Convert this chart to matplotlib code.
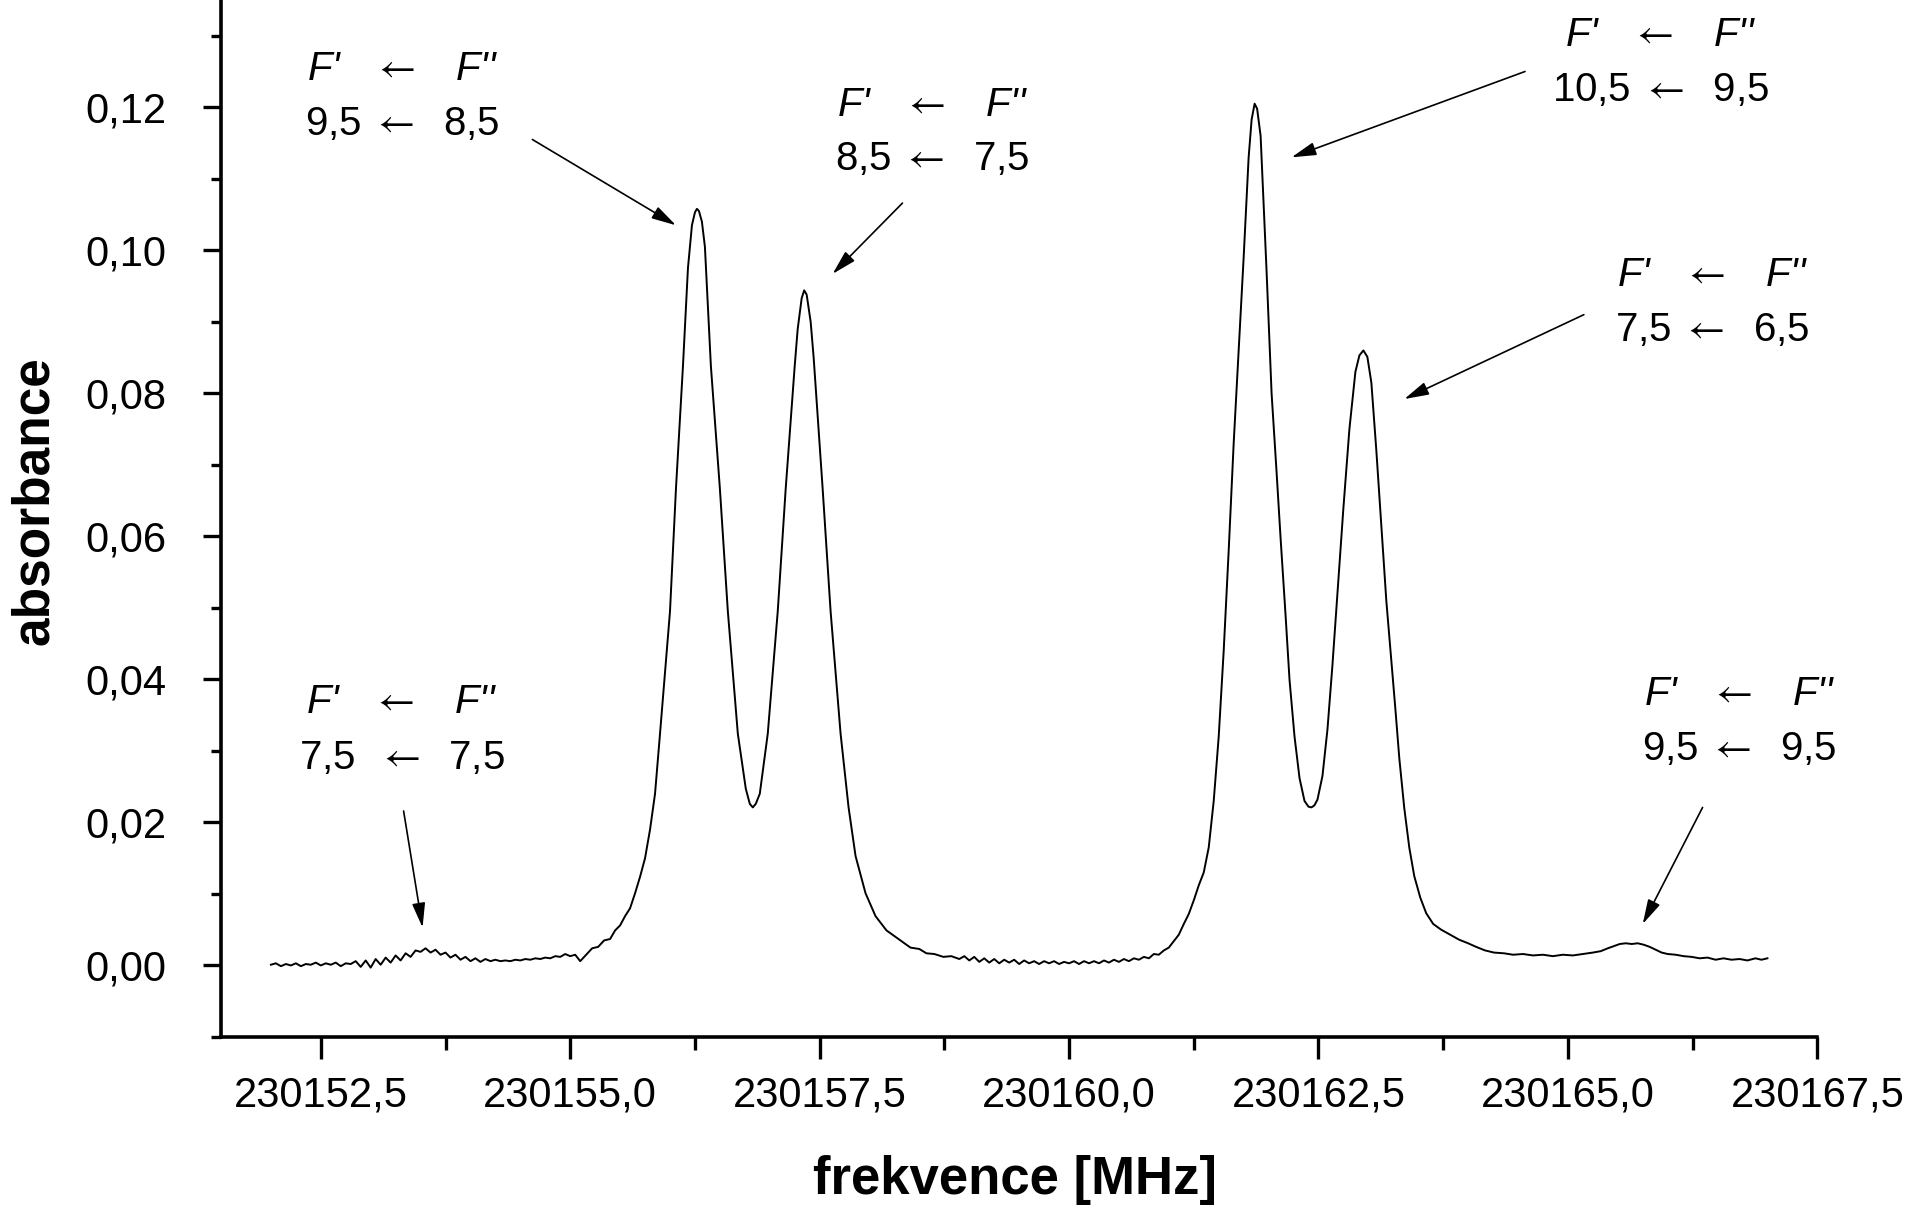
# Absorption spectrum with hyperfine components (F' <- F'')

import matplotlib
matplotlib.use("Agg")
import matplotlib.pyplot as plt
from matplotlib.ticker import MultipleLocator, FuncFormatter

# ----------------------------------------------------------------------
# Data: frequency [MHz] and absorbance

freq = [
    # noisy baseline on the left
    230152.00, 230152.05, 230152.10, 230152.15, 230152.20, 230152.25, 230152.30, 230152.35,
    230152.40, 230152.45, 230152.50, 230152.55, 230152.60, 230152.65, 230152.70, 230152.75,
    230152.80, 230152.85, 230152.90, 230152.95, 230153.00, 230153.05, 230153.10, 230153.15,
    230153.20, 230153.25, 230153.30, 230153.35, 230153.40, 230153.45, 230153.50, 230153.55,
    230153.60, 230153.65, 230153.70, 230153.75, 230153.80, 230153.85, 230153.90, 230153.95,
    230154.00, 230154.05, 230154.10, 230154.15, 230154.20, 230154.25, 230154.30, 230154.35,
    230154.40, 230154.45, 230154.50, 230154.55, 230154.60, 230154.65, 230154.70, 230154.75,
    230154.80, 230154.85, 230154.90, 230154.95, 230155.00, 230155.05, 230155.10,
    # first doublet
    230155.16, 230155.22, 230155.28, 230155.34, 230155.40, 230155.45, 230155.50, 230155.55,
    230155.60, 230155.65, 230155.70, 230155.75, 230155.80, 230155.85, 230155.90, 230155.95,
    230156.00, 230156.06, 230156.13, 230156.18, 230156.22, 230156.25, 230156.27, 230156.29,
    230156.32, 230156.35, 230156.41, 230156.50, 230156.58, 230156.68, 230156.76, 230156.80,
    230156.83, 230156.86, 230156.90, 230156.98, 230157.08, 230157.16, 230157.25, 230157.28,
    230157.32, 230157.345, 230157.37, 230157.41, 230157.44, 230157.53, 230157.61, 230157.71,
    230157.79, 230157.86, 230157.96, 230158.06, 230158.17, 230158.29, 230158.41, 230158.50,
    230158.57, 230158.65, 230158.74, 230158.82, 230158.90,
    # baseline in the middle
    230158.95, 230159.00, 230159.05, 230159.10, 230159.15, 230159.20, 230159.25, 230159.30,
    230159.35, 230159.40, 230159.45, 230159.50, 230159.55, 230159.60, 230159.65, 230159.70,
    230159.75, 230159.80, 230159.85, 230159.90, 230159.95, 230160.00, 230160.05, 230160.10,
    230160.15, 230160.20, 230160.25, 230160.30, 230160.35, 230160.40, 230160.45, 230160.50,
    230160.55, 230160.60, 230160.65, 230160.70, 230160.75, 230160.80, 230160.85, 230160.90,
    # second doublet
    230160.95, 230161.00, 230161.05, 230161.10, 230161.15, 230161.20, 230161.25, 230161.30,
    230161.35, 230161.40, 230161.45, 230161.50, 230161.55, 230161.60, 230161.65, 230161.70,
    230161.75, 230161.80, 230161.83, 230161.86, 230161.885, 230161.92, 230161.98, 230162.03,
    230162.08, 230162.12, 230162.17, 230162.21, 230162.26, 230162.31, 230162.36, 230162.40,
    230162.43, 230162.46, 230162.49, 230162.54, 230162.59, 230162.64, 230162.69, 230162.75,
    230162.81, 230162.87, 230162.91, 230162.95, 230162.99, 230163.03, 230163.08, 230163.13,
    230163.18, 230163.22, 230163.27, 230163.31, 230163.36, 230163.41, 230163.46, 230163.52,
    230163.58, 230163.65, 230163.73, 230163.82, 230163.91, 230164.00, 230164.08, 230164.17,
    230164.26, 230164.36,
    # tail with the weak line
    230164.45, 230164.55, 230164.65, 230164.75, 230164.85, 230164.95, 230165.05, 230165.15,
    230165.25, 230165.33, 230165.40, 230165.46, 230165.52, 230165.58, 230165.64, 230165.70,
    230165.76, 230165.82, 230165.88, 230165.94, 230166.00, 230166.08, 230166.16, 230166.24,
    230166.32, 230166.40, 230166.48, 230166.56, 230166.64, 230166.72, 230166.80, 230166.88,
    230166.94, 230167.00,
]

absorbance = [
    # noisy baseline on the left
    0.0001, 0.0003, -0.0001, 0.0002, 0.0000, 0.0003, -0.0001, 0.0002,
    0.0001, 0.0004, 0.0000, 0.0003, 0.0001, 0.0004, -0.0001, 0.0003,
    0.0002, 0.0006, -0.0002, 0.0007, -0.0003, 0.0009, 0.0001, 0.0011,
    0.0004, 0.0014, 0.0007, 0.0017, 0.0012, 0.0021, 0.0019, 0.0024,
    0.0018, 0.0022, 0.0015, 0.0018, 0.0011, 0.0015, 0.0008, 0.0012,
    0.0006, 0.0010, 0.0005, 0.0009, 0.0006, 0.0008, 0.0006, 0.0007,
    0.0006, 0.0008, 0.0007, 0.0009, 0.0008, 0.0010, 0.0009, 0.0011,
    0.0010, 0.0013, 0.0012, 0.0016, 0.0013, 0.0015, 0.0006,
    # first doublet
    0.0015, 0.0024, 0.0026, 0.0035, 0.0037, 0.0049, 0.0056, 0.0069,
    0.0080, 0.0101, 0.0124, 0.0150, 0.0190, 0.0240, 0.0324, 0.0410,
    0.0495, 0.0667, 0.0838, 0.0975, 0.1035, 0.1053, 0.1058, 0.1055,
    0.1040, 0.1005, 0.0838, 0.0667, 0.0495, 0.0324, 0.0247, 0.0226,
    0.0221, 0.0226, 0.0240, 0.0324, 0.0495, 0.0667, 0.0838, 0.0890,
    0.0933, 0.0944, 0.0938, 0.0900, 0.0850, 0.0667, 0.0495, 0.0324,
    0.0221, 0.0153, 0.0101, 0.0069, 0.0049, 0.0037, 0.0025, 0.0023,
    0.0017, 0.0016, 0.0012, 0.0013, 0.0009,
    # baseline in the middle
    0.0013, 0.0007, 0.0012, 0.0005, 0.0010, 0.0004, 0.0009, 0.0003,
    0.0008, 0.0004, 0.0008, 0.0002, 0.0007, 0.0003, 0.0006, 0.0002,
    0.0006, 0.0003, 0.0006, 0.0002, 0.0005, 0.0003, 0.0006, 0.0002,
    0.0006, 0.0003, 0.0006, 0.0003, 0.0007, 0.0004, 0.0008, 0.0005,
    0.0009, 0.0006, 0.0010, 0.0008, 0.0012, 0.0010, 0.0016, 0.0015,
    # second doublet
    0.0021, 0.0025, 0.0034, 0.0043, 0.0058, 0.0072, 0.0091, 0.0112,
    0.0130, 0.0165, 0.0230, 0.0320, 0.0440, 0.0580, 0.0730, 0.0860,
    0.0990, 0.1130, 0.1183, 0.1205, 0.1198, 0.1160, 0.0970, 0.0800,
    0.0690, 0.0598, 0.0490, 0.0399, 0.0320, 0.0262, 0.0230, 0.0222,
    0.0221, 0.0224, 0.0232, 0.0265, 0.0330, 0.0420, 0.0520, 0.0640,
    0.0750, 0.0830, 0.0853, 0.0860, 0.0851, 0.0815, 0.0720, 0.0615,
    0.0510, 0.0444, 0.0360, 0.0290, 0.0220, 0.0165, 0.0125, 0.0095,
    0.0073, 0.0058, 0.0050, 0.0043, 0.0036, 0.0031, 0.0026, 0.0021,
    0.0018, 0.0017,
    # tail with the weak line
    0.0015, 0.0016, 0.0014, 0.0015, 0.0013, 0.0015, 0.0014, 0.0016,
    0.0018, 0.0020, 0.0024, 0.0027, 0.0030, 0.0031, 0.0030, 0.0031,
    0.0029, 0.0026, 0.0022, 0.0018, 0.0016, 0.0015, 0.0013, 0.0012,
    0.0010, 0.0011, 0.0008, 0.0010, 0.0008, 0.0009, 0.0007, 0.0010,
    0.0008, 0.0010,
]

# Transition labels: upper line / lower line
label_top = [r"F'   $\leftarrow$   F''"] * 6
label_bottom = [r"9,5 $\leftarrow$  8,5", r"8,5 $\leftarrow$  7,5", r"10,5 $\leftarrow$  9,5",
                r"7,5 $\leftarrow$  6,5", r"7,5  $\leftarrow$  7,5", r"9,5 $\leftarrow$  9,5"]

# label centres (x, y of upper line, y of lower line) in data units
label_pos = [(230153.32, 0.1253, 0.1176), (230158.63, 0.1203, 0.1128),
             (230165.93, 0.1301, 0.1224), (230166.45, 0.0965, 0.0888),
             (230153.31, 0.0369, 0.0290), (230166.72, 0.0380, 0.0303)]
# arrow tail and tip in data units
arrow_from = [(230154.62, 0.1155), (230158.33, 0.1066), (230164.57, 0.1250),
              (230165.16, 0.0910), (230153.33, 0.0216), (230166.35, 0.0221)]
arrow_to = [(230156.06, 0.1035), (230157.63, 0.0967), (230162.23, 0.1130),
            (230163.36, 0.0792), (230153.52, 0.0053), (230165.75, 0.0058)]

# ----------------------------------------------------------------------
# Plot

fam = ['Liberation Sans', 'DejaVu Sans']
plt.rcParams['font.family'] = fam
plt.rcParams['mathtext.fontset'] = 'stix'

fig = plt.figure(figsize=(19.17, 12.10), dpi=100)
ax = fig.add_axes([0.1153, 0.143, 0.8327, 0.857])

ax.plot(freq, absorbance, color='black', lw=1.4)

for (x, y1, y2), t1, t2 in zip(label_pos, label_top, label_bottom):
    ax.text(x, y1, t1, ha='center', va='center', fontsize=29, style='italic', family=fam)
    ax.text(x, y2, t2, ha='center', va='center', fontsize=29, family=fam)

for a, b in zip(arrow_from, arrow_to):
    ax.annotate('', xy=b, xytext=a,
                arrowprops=dict(arrowstyle='-|>,head_length=0.75,head_width=0.2',
                                color='black', lw=1.2, mutation_scale=20,
                                shrinkA=0, shrinkB=0))

ax.set_xlim(230151.5, 230167.5)
ax.set_ylim(-0.01, 0.135)

ax.xaxis.set_major_locator(MultipleLocator(2.5))
ax.xaxis.set_minor_locator(MultipleLocator(1.25))
ax.yaxis.set_major_locator(MultipleLocator(0.02))
ax.yaxis.set_minor_locator(MultipleLocator(0.01))
ax.xaxis.set_major_formatter(FuncFormatter(lambda v, p: ('%.1f' % v).replace('.', ',')))
ax.yaxis.set_major_formatter(FuncFormatter(lambda v, p: ('%.2f' % v).replace('.', ',')))

for s in ['top', 'right']:
    ax.spines[s].set_visible(False)
for s in ['left', 'bottom']:
    ax.spines[s].set_linewidth(2.6)

ax.tick_params(axis='x', which='major', direction='out', length=16, width=2.4, pad=12, labelsize=30)
ax.tick_params(axis='x', which='minor', direction='out', length=9, width=2.4)
ax.tick_params(axis='y', which='major', direction='out', length=13, width=2.4, pad=26, labelsize=30)
ax.tick_params(axis='y', which='minor', direction='out', length=7, width=2.4)

fig.text(1015 / 1917, 1 - 1180 / 1210, 'frekvence [MHz]', ha='center', va='center',
         fontsize=38, fontweight='bold')
fig.text(34 / 1917, 1 - 501 / 1210, 'absorbance', ha='center', va='center',
         rotation=90, fontsize=37, fontweight='bold')

plt.savefig('out.png', dpi=100)
